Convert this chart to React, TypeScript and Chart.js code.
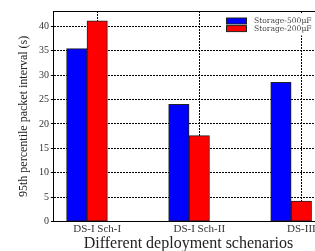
import React, { useEffect, useRef } from "react";
import { Chart, registerables } from "chart.js";

Chart.register(...registerables);

const categories = ["DS-I Sch-I", "DS-I Sch-II", "DS-III"];
const seriesNames = ["Storage-500µF", "Storage-200µF"];
const storage500 = [35.4, 24.0, 28.5];
const storage200 = [41.1, 17.6, 4.2];
const barWidth = 0.2;
const yTitle = "95th percentile packet interval (s)";
const xTitle = "Different deployment schenarios";

const SERIF = "'Liberation Serif', 'DejaVu Serif', serif";
const LEGEND_FONT = "'DejaVu Serif', 'Liberation Serif', serif";

const framePlugin = {
  id: "frameAndLegend",
  afterDraw(chart: any) {
    const { ctx, chartArea } = chart;
    ctx.save();
    // top frame line
    const ty = Math.round(chartArea.top) + 0.5;
    ctx.strokeStyle = "#000";
    ctx.lineWidth = 1;
    ctx.setLineDash([]);
    ctx.beginPath();
    ctx.moveTo(chartArea.left, ty);
    ctx.lineTo(chartArea.right, ty);
    ctx.stroke();

    // legend
    const bx = 222;
    const by = chartArea.top + 2.5;
    ctx.fillStyle = "#fff";
    ctx.fillRect(bx, by, 100, 22);
    const ds = chart.data.datasets;
    ds.forEach((d: any, i: number) => {
      const py = by + 4.5 + i * 7.6;
      ctx.fillStyle = d.backgroundColor;
      ctx.fillRect(bx + 4.5, py, 20, 6);
      ctx.strokeStyle = "#222";
      ctx.lineWidth = 1;
      ctx.strokeRect(bx + 4.5, py, 20, 6);
      ctx.fillStyle = "#444";
      ctx.font = "7.6px " + LEGEND_FONT;
      ctx.textBaseline = "middle";
      ctx.textAlign = "left";
      ctx.fillText(d.label, bx + 32, py + 3.3);
    });
    ctx.restore();
  },
};

export default function App() {
  const ref = useRef<HTMLCanvasElement | null>(null);
  useEffect(() => {
    if (!ref.current) return;
    const chart = new Chart(ref.current, {
      type: "bar",
      data: {
        datasets: [
          {
            label: seriesNames[0],
            data: storage500.map((v, i) => ({ x: i + 1 - barWidth, y: v })),
            backgroundColor: "#0000ff",
            borderColor: "#222",
            borderWidth: 1,
            borderSkipped: false,
            grouped: false,
            barPercentage: 1,
            categoryPercentage: 1,
          },
          {
            label: seriesNames[1],
            data: storage200.map((v, i) => ({ x: i + 1, y: v })),
            backgroundColor: "#ff0000",
            borderColor: "#222",
            borderWidth: 1,
            borderSkipped: false,
            grouped: false,
            barPercentage: 1,
            categoryPercentage: 1,
          },
        ],
      },
      options: {
        responsive: false,
        animation: false,
        layout: { padding: { top: 11, left: 16.5, right: 17, bottom: -1.7 } },
        plugins: { legend: { display: false }, tooltip: { enabled: false } },
        scales: {
          x: {
            type: "linear",
            offset: false,
            min: 0.576,
            max: 3.212,
            z: 1,
            afterBuildTicks: (scale: any) => {
              scale.ticks = categories.map((_, i) => ({ value: i + 1 }));
            },
            ticks: {
              callback: (v: any) => categories[Math.round(v) - 1] ?? "",
              font: { family: SERIF, size: 11, lineHeight: 1 },
              color: "#333",
              padding: 2,
              maxRotation: 0,
              autoSkip: false,
            },
            grid: { color: "#000", lineWidth: 1, drawTicks: false, offset: false },
            border: { display: true, color: "#000", width: 1, dash: [2, 1] },
            title: {
              display: true,
              text: xTitle,
              font: { family: SERIF, size: 16, lineHeight: 1 },
              color: "#222",
              padding: { top: -1, bottom: 1 },
            },
          },
          y: {
            min: 0,
            max: 43.1,
            ticks: {
              stepSize: 5,
              includeBounds: false,
              font: { family: SERIF, size: 10 },
              color: "#333",
              padding: 2,
            },
            grid: { color: "#000", lineWidth: 1, drawTicks: true, tickLength: 3, tickBorderDash: [] },
            border: { display: true, color: "#000", width: 1, dash: [2, 1] },
            title: {
              display: true,
              text: yTitle,
              font: { family: SERIF, size: 12 },
              color: "#222",
              padding: { top: 0, bottom: 6 },
            },
          },
        },
      },
      plugins: [framePlugin],
    } as any);
    return () => chart.destroy();
  }, []);
  return (
    <div style={{ position: "fixed", left: 0, top: 0, width: 315, height: 251, overflow: "hidden", background: "#fff" }}>
      <canvas ref={ref} width={340} height={251} style={{ display: "block" }} />
    </div>
  );
}
